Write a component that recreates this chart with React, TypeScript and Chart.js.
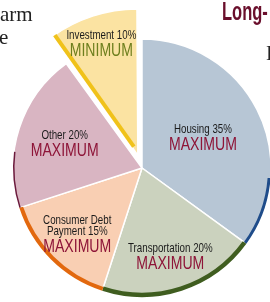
import React, { useEffect, useRef } from "react";
import { Chart, registerables } from "chart.js";

Chart.register(...registerables);

const categories = ["Housing", "Transportation", "Consumer Debt Payment", "Other", "Investment"];
const shares = [35, 20, 15, 20, 10];
const limits = ["MAXIMUM", "MAXIMUM", "MAXIMUM", "MAXIMUM", "MINIMUM"];
const labelLines = [["Housing 35%"], ["Transportation 20%"], ["Consumer Debt", "Payment 15%"], ["Other 20%"], ["Investment 10%"]];

const fills = ["#B7C6D5", "#CBD2BE", "#F9CFB3", "#D9B5C2", "#FBE3A2"];
const rims = ["#1F4C8A", "#3F5D1F", "#E2680E", "#6B1A3C", "#F0C21A"];
const rimWidth = [3, 4.5, 4, 1.5, 4];
const rimStart = [0.75, 0, 0, 0, 0];
const rimEnd = [1, 1, 1, 0.35, 0];
const limitColors = ["#8E1538", "#8E1538", "#8E1538", "#8E1538", "#6E7F1E"];
const labelRadius = [0.53, 0.71, 0.71, 0.63, 0.8];
const radiusScale = [1, 1, 1, 1, 1.09];
const explode = [0, 0, 0, 0, 54];

function drawText(ctx: CanvasRenderingContext2D, t: string, x: number, y: number, font: string, color: string, sx: number) {
  ctx.save();
  ctx.translate(x, y);
  ctx.scale(sx, 1);
  ctx.font = font;
  ctx.fillStyle = color;
  ctx.textAlign = "center";
  ctx.textBaseline = "alphabetic";
  ctx.fillText(t, 0, 0);
  ctx.restore();
}

const decorPlugin = {
  id: "pieDecor",
  beforeDatasetsDraw(chart: any) {
    const meta = chart.getDatasetMeta(0);
    const base = chart.options.radius as number;
    meta.data.forEach((arc: any, i: number) => {
      arc.outerRadius = base * radiusScale[i];
    });
  },
  afterDatasetsDraw(chart: any) {
    const ctx: CanvasRenderingContext2D = chart.ctx;
    const meta = chart.getDatasetMeta(0);
    meta.data.forEach((arc: any, i: number) => {
      const { x, y, startAngle, endAngle, outerRadius } = arc.getProps(["x", "y", "startAngle", "endAngle", "outerRadius"], true);
      const mid = (startAngle + endAngle) / 2;
      const off = (arc.options.offset || 0) / 4;
      const fix = 1 - Math.sin(Math.min(Math.PI, endAngle - startAngle));
      const shift = off * (1 + fix);
      const cx = x + Math.cos(mid) * shift;
      const cy = y + Math.sin(mid) * shift;
      const span = endAngle - startAngle;

      ctx.save();
      ctx.strokeStyle = rims[i];
      ctx.lineWidth = rimWidth[i];
      ctx.lineCap = "butt";
      if (rimEnd[i] > rimStart[i]) {
        ctx.beginPath();
        ctx.arc(cx, cy, outerRadius - rimWidth[i] / 2, startAngle + span * rimStart[i], startAngle + span * rimEnd[i]);
        ctx.stroke();
      } else {
        const a = startAngle + 0.012;
        ctx.beginPath();
        ctx.moveTo(cx + Math.cos(a) * 4, cy + Math.sin(a) * 4);
        ctx.lineTo(cx + Math.cos(a) * outerRadius, cy + Math.sin(a) * outerRadius);
        ctx.stroke();
      }
      ctx.restore();

      const d = labelRadius[i] * outerRadius;
      const ax = cx + Math.cos(mid) * d;
      const ay = cy + Math.sin(mid) * d;
      const lines = labelLines[i];
      const total = 10 + (lines.length - 1) * 10.5 + 17;
      const by = ay - total / 2 + 10;
      lines.forEach((t, k) => {
        drawText(ctx, t, ax, by + k * 10.5, "13px 'Liberation Sans', Arial, sans-serif", "#1b1b1b", 0.75);
      });
      drawText(ctx, limits[i], ax, by + (lines.length - 1) * 10.5 + 17, "19px 'Liberation Sans', Arial, sans-serif", limitColors[i], 0.74);
    });
  },
};

export default function App() {
  const ref = useRef<HTMLCanvasElement | null>(null);

  useEffect(() => {
    if (!ref.current) return;
    const chart = new Chart(ref.current, {
      type: "pie",
      data: {
        labels: categories,
        datasets: [
          {
            data: shares,
            backgroundColor: fills,
            borderColor: "#ffffff",
            borderWidth: 1.5,
            offset: explode,
            clip: false as any,
          } as any,
        ],
      },
      options: {
        animation: false,
        responsive: false,
        radius: 129,
        layout: { padding: { left: 14, top: 34, right: 0, bottom: 0 } },
        plugins: {
          legend: { display: false },
          tooltip: { enabled: false },
        },
        events: [],
      } as any,
      plugins: [decorPlugin],
    });
    return () => chart.destroy();
  }, []);

  const serif = "'Liberation Serif', 'DejaVu Serif', serif";
  return (
    <div style={{ position: "fixed", left: 0, top: 0, width: 270, height: 302, overflow: "hidden", background: "#fff" }}>
      <canvas ref={ref} width={270} height={302} style={{ position: "absolute", left: 0, top: 0 }} />
      <span style={{ position: "absolute", left: 0, top: 4, font: `21px ${serif}`, lineHeight: "21px", color: "#222", whiteSpace: "nowrap" }}>arm</span>
      <span style={{ position: "absolute", left: -1, top: 27, font: `21px ${serif}`, lineHeight: "21px", color: "#222", whiteSpace: "nowrap" }}>e</span>
      <span style={{ position: "absolute", left: 266, top: 43, font: `20px ${serif}`, lineHeight: "20px", color: "#222", whiteSpace: "nowrap" }}>I</span>
      <span
        style={{
          position: "absolute",
          left: 222,
          top: -1,
          font: "bold 25px 'Liberation Sans', Arial, sans-serif",
          lineHeight: "25px",
          color: "#6A0F2C",
          whiteSpace: "nowrap",
          transform: "scaleX(0.66)",
          transformOrigin: "left top",
        }}
      >
        Long-
      </span>
    </div>
  );
}
